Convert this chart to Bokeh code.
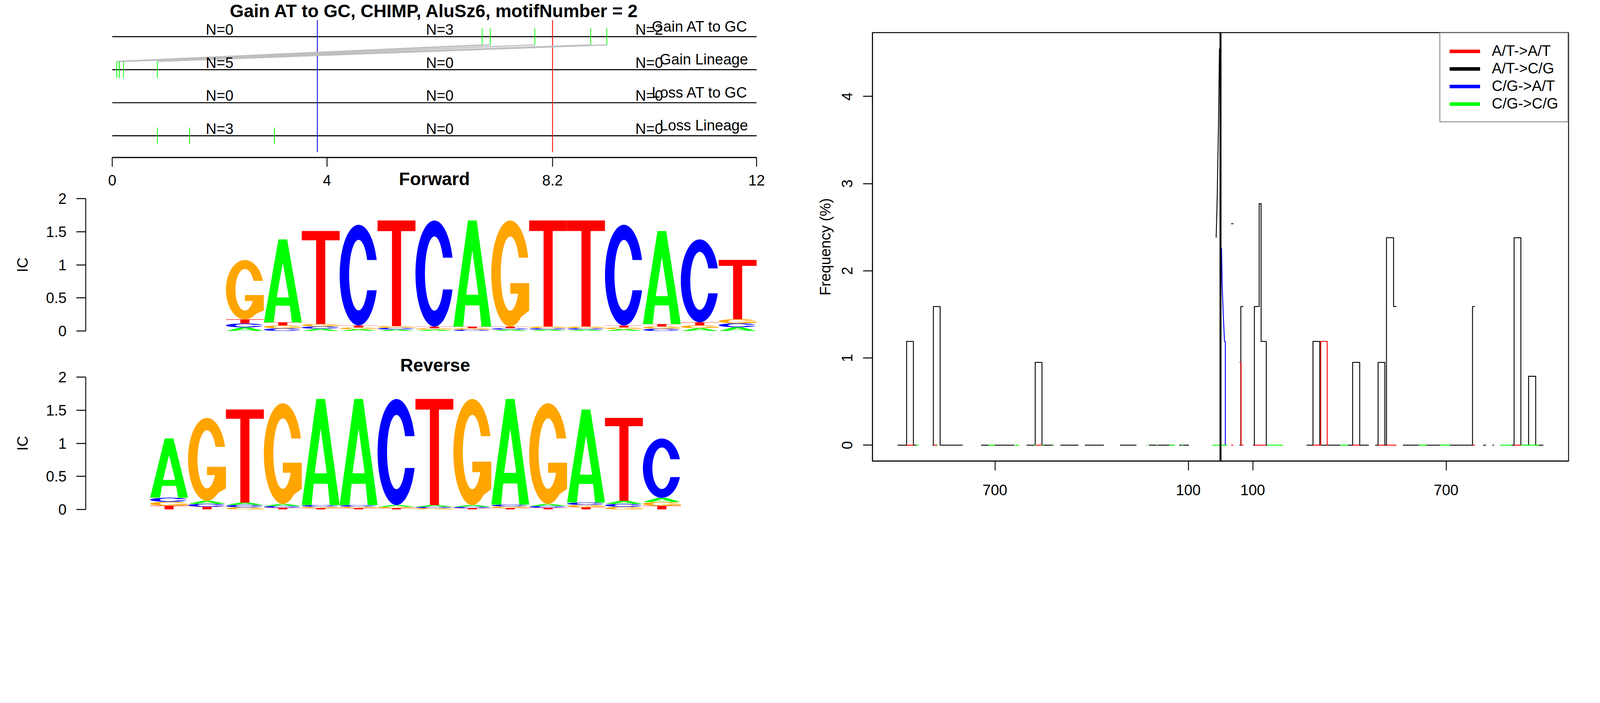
import numpy as np
from bokeh.plotting import figure
from bokeh.models import (Range1d, FixedTicker, CustomJSTickFormatter, Span,
                          Legend, LegendItem)
from bokeh.layouts import row, column
from bokeh.core.properties import value
from bokeh.embed import file_html
from bokeh.resources import INLINE

FONT = "Liberation Sans"
R = 1.3125  # screenshot pixels per CSS pixel


def css(v):
    return int(round(v / R))


def fs(v):
    return "%dpx" % round(v / R)


# ---------------- data: event tracks (top left) ----------------
panel_title = "Gain AT to GC, CHIMP, AluSz6, motifNumber = 2"
track_names = ["Gain AT to GC", "Gain Lineage", "Loss AT to GC", "Loss Lineage"]
track_y = [4, 3, 2, 1]
track_events = [
    [6.89, 7.04, 7.87, 8.91, 9.21],
    [0.085, 0.13, 0.13, 0.21, 0.84],
    [],
    [0.84, 1.44, 3.02],
]
split_blue = 3.82
split_red = 8.2
track_span = (0, 12)
track_ticks = [0, 4, 8.2, 12]
n_label_x = [2, 6.1, 10]

# ---------------- data: motif logo (information content per base) ----------------
motif = "GATCTCAGTTCACT"
ic_A = [0.055, 1.253, 0.034, 0.026, 0.022, 0.020, 1.603, 0.020, 0.020, 0.020, 0.026, 1.405, 0.042, 0.057]
ic_C = [0.058, 0.040, 0.035, 1.522, 0.025, 1.603, 0.020, 0.022, 0.022, 0.022, 1.522, 0.034, 1.253, 0.059]
ic_G = [0.897, 0.044, 0.036, 0.027, 0.027, 0.022, 0.022, 1.603, 0.025, 0.025, 0.027, 0.035, 0.044, 0.062]
ic_T = [0.062, 0.047, 1.405, 0.030, 1.595, 0.024, 0.024, 0.024, 1.603, 1.603, 0.030, 0.036, 0.045, 0.896]
fwd_offset = 3
rev_offset = 1
logo_colors = {"A": "#00FF00", "C": "#0000FF", "G": "#FFA500", "T": "#FF0000"}

# ---------------- data: substitution frequency around motif (right) ----------------
# runs of (start, end, frequency); a new run means a gap in the line
at_cg_runs = [
    [(-1002, -974, 0), (-974, -953, 1.19), (-953, -944, 0)],
    [(-894, -891, 0), (-891, -870, 1.59), (-870, -800, 0)],
    [(-743, -640, 0)],
    [(-602, -575, 0), (-575, -554, 0.95), (-554, -518, 0)],
    [(-497, -441, 0)],
    [(-421, -362, 0)],
    [(-312, -261, 0)],
    [(-222, -141, 0)],
    [(-128, -98, 0)],
    [(33, 40, 2.54)],
    [(59, 63, 0), (63, 71, 1.59)],
    [(101, 105, 0), (105, 120, 1.59), (120, 126, 2.77), (126, 142, 1.19), (142, 145, 0)],
    [(267, 287, 0), (287, 308, 1.19), (308, 410, 0), (410, 432, 0.95), (432, 460, 0)],
    [(480, 489, 0), (489, 510, 0.95), (510, 515, 0), (515, 537, 2.38), (537, 546, 1.59)],
    [(566, 782, 0), (782, 789, 1.59)],
    [(815, 824, 0)],
    [(844, 849, 0)],
    [(903, 911, 0), (911, 932, 2.38), (932, 956, 0), (956, 978, 0.79), (978, 1002, 0)],
]
at_cg_peak_x = [-13.5, -10.3, -6.2, -3.3]
at_cg_peak_y = [2.38, 2.83, 3.69, 4.55]

at_at_runs = [
    [(-974, -953, 0)],
    [(-891, -878, 0)],
    [(-575, -554, 0)],
    [(33, 40, 0)],
    [(59, 64, 0.95), (64, 71, 0)],
    [(105, 142, 0)],
    [(287, 311, 0), (311, 331, 1.19), (331, 334, 0)],
    [(410, 432, 0)],
    [(489, 510, 0)],
    [(515, 546, 0)],
    [(782, 789, 0)],
    [(911, 932, 0)],
]

cg_at_x = [3.3, 5.0, 8.2, 12.4, 14.9, 14.9]
cg_at_y = [2.26, 1.86, 1.53, 1.19, 1.19, 0]

cg_cg_start = [-944, -880, -720, -638, -578, -553, -523, -229, -198, -159, -120, -25, 145, 371, 615, 681, 867, 932]
cg_cg_end = [-937, -877, -700, -625, -573, -549, -520, -226, -195, -141, -116, 21, 194, 396, 639, 712, 903, 988]

freq_ticks = [-700, -100, 100, 700]
legend_names = ["A/T->A/T", "A/T->C/G", "C/G->A/T", "C/G->C/G"]
legend_colors = ["#FF0000", "#000000", "#0000FF", "#00FF00"]


def step_path(runs):
    xs, ys = [], []
    for run in runs:
        for x0, x1, v in run:
            xs += [x0, x1]
            ys += [v, v]
        xs.append(np.nan)
        ys.append(np.nan)
    return xs, ys


def arc(a, b, t0, t1, n=60):
    t = np.linspace(t0, t1, n)
    return list(0.5 + a * np.cos(t)), list(0.5 + b * np.sin(t))


def letter_shape(letter):
    # unit-box outlines: list of polygons, each a list of rings (exterior first)
    if letter == "A":
        outer = ([0, 0.385, 0.615, 1, 0.74, 0.685, 0.315, 0.26], [0, 1, 1, 0, 0, 0.2, 0.2, 0])
        hole = ([0.34, 0.5, 0.66], [0.3, 0.72, 0.3])
        return [[outer, hole]]
    if letter == "T":
        return [[([0, 1, 1, 0.62, 0.62, 0.38, 0.38, 0], [1, 1, 0.9, 0.9, 0, 0, 0.9, 0.9])]]
    if letter == "C":
        ox, oy = arc(0.5, 0.5, np.arcsin(0.3), 2 * np.pi - np.arcsin(0.3))
        ix, iy = arc(0.25, 0.35, 2 * np.pi - np.arcsin(0.15 / 0.35), np.arcsin(0.15 / 0.35))
        return [[(ox + ix, oy + iy)]]
    # G: ring open at upper right, with bar and right stem
    ox, oy = arc(0.5, 0.5, np.arcsin(0.3), 2 * np.pi - np.arccos(0.58))
    ix, iy = arc(0.25, 0.35, 2 * np.pi - np.arcsin(0.19 / 0.35), np.arcsin(0.15 / 0.35))
    bx = [1.0, 1.0, 0.5, 0.5]
    by = [0.15, 0.41, 0.41, 0.31]
    return [[(ox + bx + ix, oy + by + iy)]]


def draw_logo(p, heights, offset):
    xs, ys, cols = [], [], []
    ncol = len(heights["A"])
    for k in range(ncol):
        stack = sorted(((heights[L][k], L) for L in "ACGT"), key=lambda t: t[0])
        base = 0.0
        for h, L in stack:
            polys_x, polys_y = [], []
            for poly in letter_shape(L):
                polys_x.append([[offset + k + u for u in rx] for rx, ry in poly])
                polys_y.append([[base + v * h for v in ry] for rx, ry in poly])
            xs.append(polys_x)
            ys.append(polys_y)
            cols.append(logo_colors[L])
            base += h
    p.multi_polygons(xs=xs, ys=ys, fill_color=cols, line_color=None)


def logo_axis(p):
    ax = p.yaxis[0]
    ax.ticker = FixedTicker(ticks=[0, 0.5, 1, 1.5, 2])
    ax.formatter = CustomJSTickFormatter(code="return tick.toString();")
    ax.bounds = (0, 2)
    ax.axis_label = "IC"
    ax.axis_label_text_font = FONT
    ax.axis_label_text_font_style = "normal"
    ax.axis_label_text_font_size = fs(50)
    ax.axis_label_text_color = "black"
    ax.axis_label_standoff = css(47)
    ax.major_label_text_font = FONT
    ax.major_label_text_font_size = fs(50)
    ax.major_label_text_color = "black"
    ax.major_label_standoff = css(33)
    ax.major_tick_out = css(31)
    ax.major_tick_in = 0
    ax.minor_tick_out = 0
    ax.minor_tick_in = 0
    ax.axis_line_width = 3 / R
    ax.major_tick_line_width = 3 / R
    p.xgrid.visible = False
    p.ygrid.visible = False


LEFT_W = css(2700 - 10.5)
TOP_H = 485
FWD_H = 414
TOTAL_H = css(1790 - 10.5)
REV_H = TOTAL_H - TOP_H - FWD_H
RIGHT_W = css(5388 - 2700)

# left column frames share the same horizontal extent (screen px 298..2646)
l_left, l_w = css(298 - 10.5), css(2646 - 298)
l_right = LEFT_W - l_left - l_w

# ---------------- top left: event tracks ----------------
unit = 111.0 / R                    # css px per track unit
trk_top = 4 + (133 - 10.5) / 111.0
trk_bot = trk_top - TOP_H / unit
px_per_x = 2165.0 / 12
p1 = figure(width=LEFT_W, height=TOP_H,
            x_range=Range1d(-(387 - 298) / px_per_x, 12 + (2646 - 2552) / px_per_x),
            y_range=Range1d(trk_bot, trk_top),
            output_backend="svg", toolbar_location=None, x_axis_location=None, y_axis_location=None,
            min_border_left=l_left, min_border_right=l_right, min_border_top=0, min_border_bottom=0,
            outline_line_color=None)
p1.xgrid.visible = False
p1.ygrid.visible = False

mid_x = (track_span[0] + track_span[1]) / 2
p1.text(x=[mid_x], y=[4 + (133 - 47) / 111.0], text=[panel_title], text_font=value(FONT),
        text_font_size=fs(60), text_font_style="bold", text_align="center",
        text_baseline="middle", text_color="black")

p1.segment(x0=[track_span[0]] * 4, y0=track_y, x1=[track_span[1]] * 4, y1=track_y,
           line_color="black", line_width=3.5 / R)
p1.segment(x0=[split_blue, split_red], y0=[0.5, 0.5], x1=[split_blue, split_red], y1=[4.5, 4.5],
           line_color=["#0000FF", "#FF0000"], line_width=2.8 / R)

# links between gains on lineage and AT->GC track
gain_lin = sorted(track_events[1])
gain_at = sorted(track_events[0])
p1.segment(x0=gain_lin, y0=[track_y[1] + 0.25] * len(gain_lin), x1=gain_at,
           y1=[track_y[0] - 0.25] * len(gain_at), line_color="#BEBEBE", line_width=4 / R)

ex, ey0, ey1 = [], [], []
for yv, ev in zip(track_y, track_events):
    for e in ev:
        ex.append(e)
        ey0.append(yv - 0.25)
        ey1.append(yv + 0.25)
p1.segment(x0=ex, y0=ey0, x1=ex, y1=ey1, line_color="#00FF00", line_width=2.5 / R)

edges = [track_span[0], split_blue, split_red, track_span[1] + 1e-9]
nx, ny, nt = [], [], []
for yv, ev in zip(track_y, track_events):
    for i in range(3):
        cnt = sum(1 for e in ev if edges[i] <= e < edges[i + 1])
        nx.append(n_label_x[i])
        ny.append(yv + 0.21)
        nt.append("N=%d" % cnt)
p1.text(x=nx, y=ny, text=nt, text_font=value(FONT), text_font_size=fs(50),
        text_align="center", text_baseline="middle", text_color="black")
p1.text(x=[11.84] * 4, y=[yv + 0.31 for yv in track_y], text=track_names, text_font=value(FONT),
        text_font_size=fs(50), text_align="right", text_baseline="middle", text_color="black")

# position axis of the tracks (R style: line between first and last tick)
axis_y = 4 - (539 - 133) / 111.0
tick_len = 31 / 111.0
p1.segment(x0=[track_span[0]], y0=[axis_y], x1=[track_span[1]], y1=[axis_y],
           line_color="black", line_width=4 / R)
p1.segment(x0=track_ticks, y0=[axis_y] * len(track_ticks), x1=track_ticks,
           y1=[axis_y - tick_len] * len(track_ticks), line_color="black", line_width=3 / R)
p1.text(x=track_ticks, y=[4 - (616 - 133) / 111.0] * len(track_ticks),
        text=["%g" % t for t in track_ticks], text_font=value(FONT), text_font_size=fs(50),
        text_align="center", text_baseline="middle", text_color="black")
# title of the forward logo panel, on the same line as the tick labels
p1.text(x=[mid_x], y=[4 - (611 - 133) / 111.0], text=["Forward"],
        text_font=value(FONT), text_font_size=fs(60), text_font_style="bold",
        text_align="center", text_baseline="middle", text_color="black")

# ---------------- forward logo ----------------
col_px = 2165.0 / 17
logo_x = Range1d(-(387 - 298) / col_px, 17 + (2646 - 2552) / col_px)
b_top, f_h = int(round(8 + (677 - 10.5) / R)) - 8 - TOP_H, css(445)
p2 = figure(width=LEFT_W, height=FWD_H, x_range=logo_x, y_range=Range1d(0, 2),
            output_backend="svg", toolbar_location=None, x_axis_location=None,
            min_border_left=l_left, min_border_right=l_right,
            min_border_top=b_top, min_border_bottom=FWD_H - b_top - f_h,
            outline_line_color=None)
logo_axis(p2)
draw_logo(p2, {"A": ic_A, "C": ic_C, "G": ic_G, "T": ic_T}, fwd_offset)

# ---------------- reverse logo (reverse complement) ----------------
rev = {"A": ic_T[::-1], "C": ic_G[::-1], "G": ic_C[::-1], "T": ic_A[::-1]}
b_top, f_h = int(round(8 + (1276.6 - 10.5) / R)) - 8 - TOP_H - FWD_H, css(444.4)
p3 = figure(width=LEFT_W, height=REV_H, x_range=logo_x, y_range=Range1d(0, 2),
            output_backend="svg", toolbar_location=None, x_axis_location=None,
            min_border_left=l_left, min_border_right=l_right,
            min_border_top=b_top, min_border_bottom=REV_H - b_top - f_h,
            outline_line_color=None, title="Reverse")
p3.title.align = "center"
p3.title.text_font = FONT
p3.title.text_font_size = fs(60)
p3.title.text_font_style = "bold"
p3.title.text_color = "black"
logo_axis(p3)
draw_logo(p3, rev, rev_offset)

# ---------------- right: frequency plot ----------------
r_left, r_w = css(2941 - 2700), css(2339)
b_top, f_h = css(119 - 10.5), css(1440)
p4 = figure(width=RIGHT_W, height=TOTAL_H, x_range=Range1d(-1080, 1080), y_range=Range1d(-0.182, 4.732),
            output_backend="svg", toolbar_location=None,
            min_border_left=r_left, min_border_right=RIGHT_W - r_left - r_w,
            min_border_top=b_top, min_border_bottom=TOTAL_H - b_top - f_h,
            outline_line_color="black", outline_line_width=3 / R)
p4.xgrid.visible = False
p4.ygrid.visible = False

lw = 3 / R
bx, by = step_path(at_cg_runs)
p4.line(bx, by, line_color="#000000", line_width=lw, line_join="round")
p4.line(at_cg_peak_x, at_cg_peak_y, line_color="#000000", line_width=lw)
rx, ry = step_path(at_at_runs)
p4.line(rx, ry, line_color="#FF0000", line_width=lw, line_join="round")
p4.line(cg_at_x, cg_at_y, line_color="#0000FF", line_width=lw)
gx, gy = step_path([[(s, e, 0)] for s, e in zip(cg_cg_start, cg_cg_end)])
p4.line(gx, gy, line_color="#00FF00", line_width=lw)
p4.add_layout(Span(location=0, dimension="height", line_color="black", line_width=6.5 / R))

# legend keys drawn thicker than the data lines (lwd 4 in the original)
items = []
for name, col in zip(legend_names, legend_colors):
    r = p4.line(x=[np.nan, np.nan], y=[np.nan, np.nan], line_color=col,
                line_width=11.5 / R, line_cap="round")
    items.append(LegendItem(label=name, renderers=[r]))
leg = Legend(items=items, location="top_right", margin=0, padding=css(32), spacing=css(2),
             glyph_width=css(102), glyph_height=css(50), label_height=css(50),
             label_standoff=css(40), label_text_font=FONT, label_text_font_size=fs(50),
             label_text_color="black",
             border_line_color="black", border_line_width=3 / R, background_fill_alpha=1)
p4.add_layout(leg)

ya = p4.yaxis[0]
ya.ticker = FixedTicker(ticks=[0, 1, 2, 3, 4])
ya.major_label_orientation = "vertical"
ya.major_label_standoff = css(30) + 4
ya.axis_label = "Frequency (%)"
ya.axis_label_text_font = FONT
ya.axis_label_text_font_style = "normal"
ya.axis_label_text_font_size = fs(50)
ya.axis_label_text_color = "black"
ya.axis_label_standoff = 19
xb = p4.xaxis[0]
xb.ticker = FixedTicker(ticks=freq_ticks)
xb.formatter = CustomJSTickFormatter(code="return Math.abs(tick).toString();")
xb.major_label_standoff = css(30) + 13
for ax in (ya, xb):
    ax.major_label_text_font = FONT
    ax.major_label_text_font_size = fs(50)
    ax.major_label_text_color = "black"
    ax.major_tick_out = css(31)
    ax.major_tick_in = 0
    ax.minor_tick_out = 0
    ax.minor_tick_in = 0
    ax.axis_line_width = 3 / R
    ax.major_tick_line_width = 3 / R
    ax.axis_line_color = "black"
    ax.major_tick_line_color = "black"

layout = row(column(p1, p2, p3), p4)
open("out.html", "w").write(file_html(layout, INLINE, title="motif substitution frequency"))
